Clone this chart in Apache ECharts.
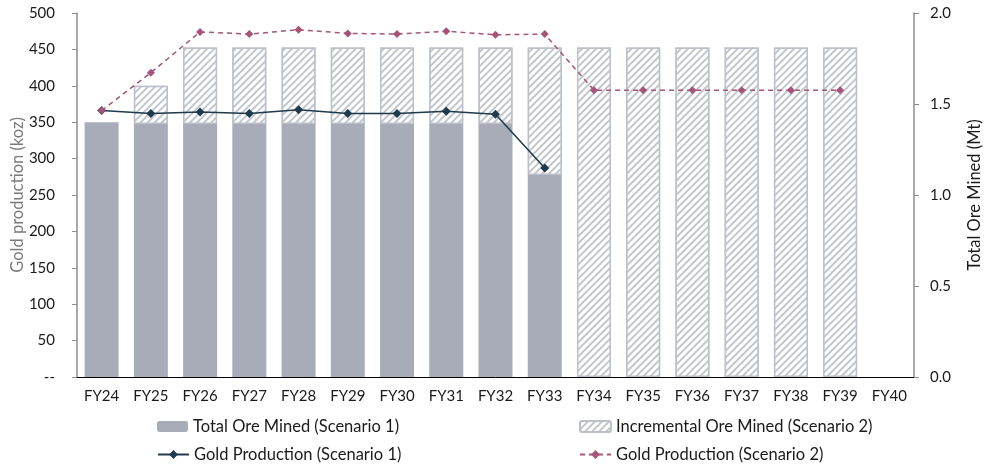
<!DOCTYPE html>
<html>
<head>
<meta charset="utf-8">
<script src="https://cdn.jsdelivr.net/npm/echarts@6/dist/echarts.min.js"></script>
<style>
  html, body { margin: 0; padding: 0; background: #fff; }
  #chart { width: 987px; height: 466px; }
</style>
</head>
<body>
<div id="chart"></div>
<script>
// categories
var years = ['FY24', 'FY25', 'FY26', 'FY27', 'FY28', 'FY29', 'FY30', 'FY31', 'FY32', 'FY33',
  'FY34', 'FY35', 'FY36', 'FY37', 'FY38', 'FY39', 'FY40'];

// ore mined (Mt) - right axis
var oreScenario1 = [1.40, 1.39, 1.39, 1.39, 1.39, 1.39, 1.39, 1.39, 1.39, 1.11,
  null, null, null, null, null, null, null];
var oreIncremental2 = [null, 0.21, 0.42, 0.42, 0.42, 0.42, 0.42, 0.42, 0.42, 0.70,
  1.81, 1.81, 1.81, 1.81, 1.81, 1.81, null];

// gold production (koz) - left axis
var goldScenario1 = [366, 362, 364, 362, 367, 362, 362, 365, 361, 287,
  null, null, null, null, null, null, null];
var goldScenario2 = [366, 418, 474, 471, 477, 472, 471, 475, 470, 471,
  394, 394, 394, 394, 394, 394, null];

var FONT = 'Lato';
var txt = '#1a1a1a';

var chart = echarts.init(document.getElementById('chart'));

// diagonal "/" hatching for incremental ore
var hatch = {
  symbol: 'rect',
  symbolSize: 1,
  color: '#c2c6ce',
  backgroundColor: '#ffffff',
  dashArrayX: [1, 0],
  dashArrayY: [1.2, 2.6],
  rotation: -Math.PI / 4
};

function legendAt(name, left, top) {
  return {
    data: [name],
    left: left,
    top: top,
    padding: 0,
    itemWidth: 31,
    itemHeight: 11,
    textStyle: { fontFamily: FONT, fontSize: 16.5, color: txt }
  };
}

chart.setOption({
  animation: false,
  textStyle: { fontFamily: FONT },
  grid: { left: 77, right: 73, top: 13, bottom: 89, containLabel: false, outerBoundsMode: 'none' },
  legend: [
    legendAt('Total Ore Mined (Scenario 1)', 157, 418),
    legendAt('Incremental Ore Mined (Scenario 2)', 579, 418),
    legendAt('Gold Production (Scenario 1)', 157, 446),
    legendAt('Gold Production (Scenario 2)', 579, 446)
  ],
  xAxis: {
    type: 'category',
    data: years,
    axisLine: { lineStyle: { color: '#000', width: 1 } },
    axisTick: { length: 5, lineStyle: { color: '#555' } },
    axisLabel: { color: txt, fontFamily: FONT, fontSize: 15, margin: 12 }
  },
  yAxis: [
    {
      type: 'value',
      min: 0, max: 500, interval: 50,
      name: 'Gold production (koz)',
      nameLocation: 'middle',
      nameGap: 51,
      nameMoveOverlap: false,
      nameTextStyle: { color: '#7a7a7a', fontFamily: FONT, fontSize: 16.5 },
      axisLine: { show: true, lineStyle: { color: '#8c8c8c', width: 1.5 } },
      axisTick: { show: true, length: 5, lineStyle: { color: '#8c8c8c' } },
      splitLine: { show: false },
      axisLabel: {
        color: txt, fontFamily: FONT, fontSize: 15, margin: 22,
        formatter: function (v) { return v === 0 ? '--' : v; }
      }
    },
    {
      type: 'value',
      min: 0, max: 2, interval: 0.5,
      name: 'Total Ore Mined (Mt)',
      nameLocation: 'middle',
      nameGap: 52,
      nameRotate: 90,
      nameMoveOverlap: false,
      nameTextStyle: { color: txt, fontFamily: FONT, fontSize: 16.5 },
      axisLine: { show: true, lineStyle: { color: '#8c8c8c', width: 1.5 } },
      axisTick: { show: true, length: 5, lineStyle: { color: '#8c8c8c' } },
      splitLine: { show: false },
      axisLabel: {
        color: txt, fontFamily: FONT, fontSize: 15, margin: 16,
        formatter: function (v) { return v.toFixed(1); }
      }
    }
  ],
  series: [
    {
      name: 'Total Ore Mined (Scenario 1)',
      type: 'bar',
      yAxisIndex: 1,
      stack: 'ore',
      barWidth: 34,
      data: oreScenario1,
      itemStyle: { color: '#a7acb8' }
    },
    {
      name: 'Incremental Ore Mined (Scenario 2)',
      type: 'bar',
      yAxisIndex: 1,
      stack: 'ore',
      barWidth: 34,
      data: oreIncremental2,
      itemStyle: {
        color: '#ffffff',
        borderColor: '#bcc0c9',
        borderWidth: 1.5,
        decal: hatch
      }
    },
    {
      name: 'Gold Production (Scenario 1)',
      type: 'line',
      yAxisIndex: 0,
      data: goldScenario1,
      symbol: 'diamond',
      symbolSize: 9,
      z: 5,
      lineStyle: { color: '#1f3a4c', width: 1.5 },
      itemStyle: { color: '#1f3a4c' }
    },
    {
      name: 'Gold Production (Scenario 2)',
      type: 'line',
      yAxisIndex: 0,
      data: goldScenario2,
      symbol: 'diamond',
      symbolSize: 8,
      z: 6,
      lineStyle: { color: '#a5547a', width: 1.5, type: [5, 4] },
      itemStyle: { color: '#a5547a' }
    }
  ]
});
</script>
</body>
</html>
